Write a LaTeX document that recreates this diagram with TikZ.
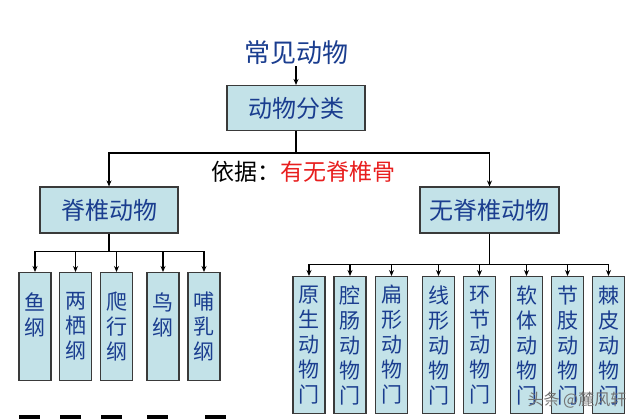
\documentclass[tikz,border=0pt]{standalone}
\usepackage{fontspec}
\setmainfont{Noto Sans CJK SC}
\usepackage{xcolor}
\usetikzlibrary{arrows.meta, positioning}

\definecolor{boxfill}{HTML}{C3E2E8}
\definecolor{boxline}{HTML}{3A3A3A}
\definecolor{inkblue}{HTML}{1A3D8F}
\definecolor{inkred}{HTML}{E81E1E}

\tikzset{
    box/.style={draw=boxline, fill=boxfill, line width=1.1pt, text=inkblue,
        inner sep=0pt, font=\fontsize{24}{24}\selectfont},
    leaf/.style={box, anchor=north, minimum width=32pt, align=center,
        font=\fontsize{21}{25}\selectfont},
    link/.style={line width=1.4pt},
    arr/.style={link, -{Stealth[length=6pt, width=5pt]}}
}

\begin{document}
\begin{tikzpicture}[x=1pt, y=-1pt]
    \useasboundingbox[fill=white] (0, 0) rectangle (640, 419);
    \node[text=inkblue, inner sep=1pt, font=\fontsize{26}{26}\selectfont] (title) at (296, 53) {常见动物};
    \node[box, minimum width=138pt, minimum height=45pt] (fenlei) at (296, 108) {动物分类};
    \node[font=\fontsize{23}{23}\selectfont] (yiju) at (303, 172) {依据：\textcolor{inkred}{有无脊椎骨}};
    \node[box, minimum width=138pt, minimum height=46pt] (jizhui) at (109, 210) {脊椎动物};
    \node[box, minimum width=139pt, minimum height=46pt] (wuji) at (489.5, 210) {无脊椎动物};
    \draw[arr] (title.south) -- (fenlei.north);
    \draw[link] (fenlei.south) -- ++(0, 22) coordinate (split);
    \draw[arr] (split) -| (jizhui.north);
    \draw[arr] (split) -| (wuji.north);
    % vertebrates
    \draw[link] (jizhui.south) -- ++(0, 18) coordinate (lsplit);
    \foreach \n/\x/\t in {yu/35/{鱼\\纲\\~}, liangqi/75.5/{两\\栖\\纲},
        paxing/116.5/{爬\\行\\纲}, niao/163/{鸟\\纲\\~}, buru/204/{哺\\乳\\纲}} {
        \node[leaf, minimum height=108pt] (\n) at (\x, 272) {\t};
        \draw[arr] (lsplit) -| (\n.north);
    }
    % invertebrates
    \draw[link] (wuji.south) -- ++(0, 31) coordinate (rsplit);
    \foreach \n/\x/\t in {yuansheng/309/{原\\生\\动\\物\\门}, qiangchang/350/{腔\\肠\\动\\物\\门},
        bianxing/391.5/{扁\\形\\动\\物\\门}, xianxing/438.5/{线\\形\\动\\物\\门},
        huanjie/479.5/{环\\节\\动\\物\\门}, ruanti/526.5/{软\\体\\动\\物\\门},
        jiezhi/567.5/{节\\肢\\动\\物\\门}, jipi/608.5/{棘\\皮\\动\\物\\门}} {
        \node[leaf, minimum height=137pt] (\n) at (\x, 276) {\t};
        \draw[arr] (rsplit) -| (\n.north);
    }
    % cut-off row at the bottom edge
    \foreach \x in {19, 60, 101, 147, 205}
        \fill (\x, 415) rectangle ++(21, 4);
    % watermark
    \node[text=black!55, font=\fontsize{16}{16}\selectfont] (mark) at (577, 400) {头条 @麓风轩};
\end{tikzpicture}
\end{document}
